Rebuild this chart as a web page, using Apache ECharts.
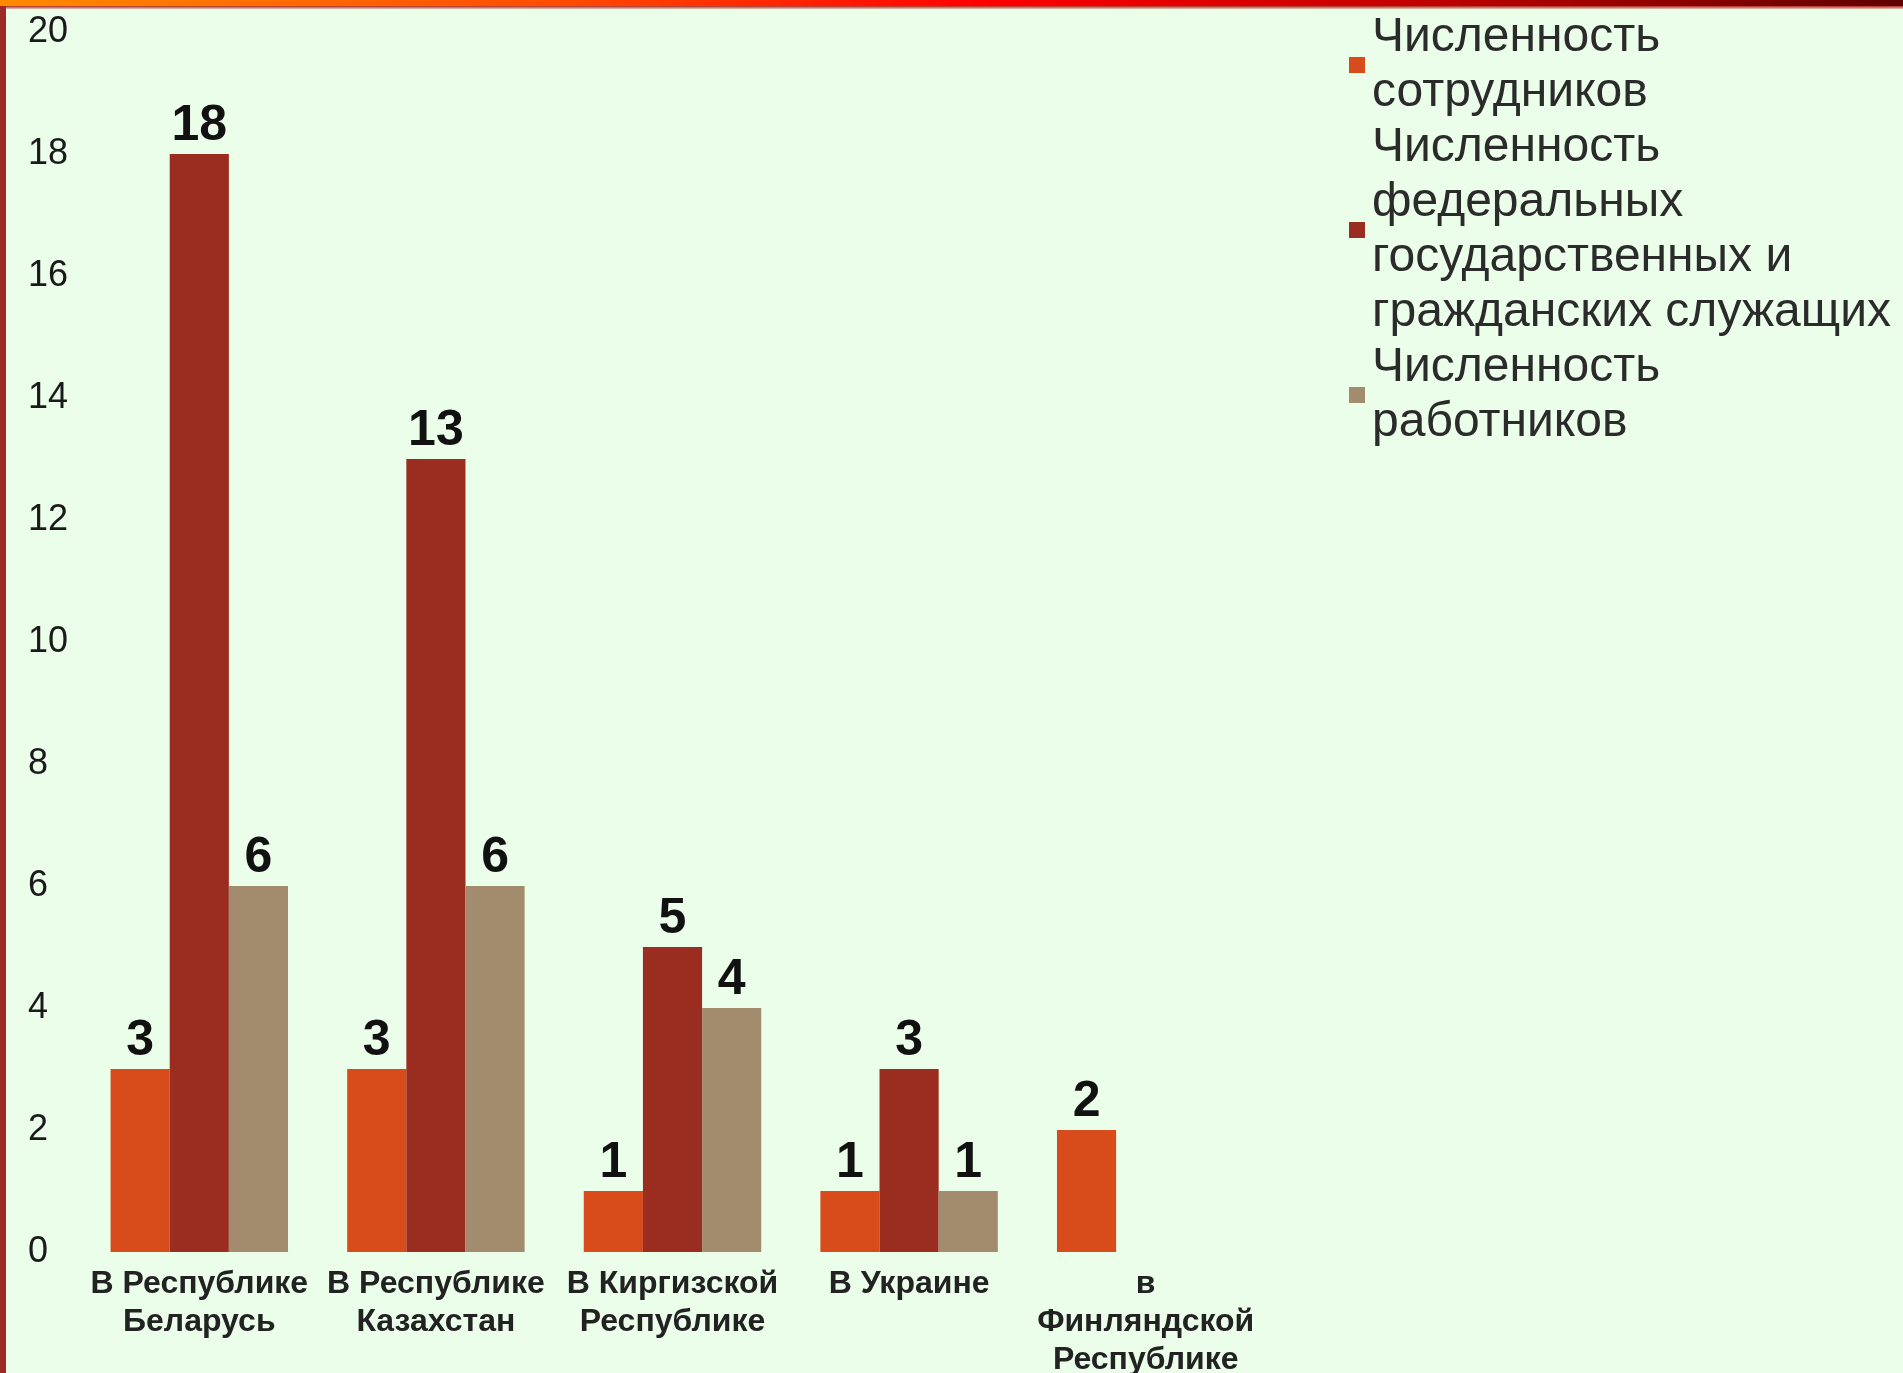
<!DOCTYPE html>
<html>
<head>
<meta charset="utf-8">
<script src="https://cdn.jsdelivr.net/npm/echarts@6/dist/echarts.min.js"></script>
<style>
  html, body { margin: 0; padding: 0; background: #eafeea; overflow: hidden; }
  #chart { position: absolute; left: 0; top: 0; width: 1903px; height: 1373px; }
  #topbar { position: absolute; left: 0; top: 0; width: 1903px; height: 6px; z-index: 5;
    background: linear-gradient(to right, #ff8a00 0%, #ff4a00 30%, #ff0000 52%, #c00000 75%, #600000 100%); }
  #topline { position: absolute; left: 0; top: 6px; width: 1903px; height: 3px; z-index: 5;
    background: linear-gradient(to bottom, #b02a20, rgba(200,120,110,0.4)); }
  #leftbar { position: absolute; left: 0; top: 6px; width: 6px; height: 1367px; z-index: 5; background: #9c2b27; }
</style>
</head>
<body>
<div id="chart"></div>
<div id="topbar"></div>
<div id="topline"></div>
<div id="leftbar"></div>
<script>
const categories = [
  'В Республике\nБеларусь',
  'В Республике\nКазахстан',
  'В Киргизской\nРеспублике',
  'В Украине',
  'в\nФинляндской\nРеспублике'
];
const seriesNames = [
  'Численность\nсотрудников',
  'Численность\nфедеральных\nгосударственных и\nгражданских служащих',
  'Численность\nработников'
];
const staff = [3, 3, 1, 1, 2];
const federal = [18, 13, 5, 3, null];
const workers = [6, 6, 4, 1, null];
const yTicks = { min: 0, max: 20, interval: 2 };
const colors = ['#d84b1a', '#9b2d20', '#a38c6e'];

const chart = echarts.init(document.getElementById('chart'), null, { renderer: 'canvas' });
const font = '"Liberation Sans", Arial, sans-serif';
const labelStyle = {
  show: true, position: 'top', distance: 3,
  fontSize: 50, fontWeight: 'bold', color: '#111', fontFamily: font
};
chart.setOption({
  backgroundColor: 'transparent',
  color: colors,
  animation: false,
  grid: { left: 81, right: 639, top: 32, bottom: 121, outerBoundsMode: 'none' },
  legend: {
    orient: 'vertical', left: 1344, top: 5,
    itemWidth: 16, itemHeight: 16, itemGap: 0, icon: 'rect',
    textStyle: { fontSize: 48, lineHeight: 55, color: '#2b2b2b', fontFamily: font, padding: [0, 0, 0, 2] },
    data: seriesNames
  },
  xAxis: {
    type: 'category', data: categories,
    axisLine: { show: false }, axisTick: { show: false },
    axisLabel: { interval: 0, margin: 13, fontSize: 32, lineHeight: 38, fontWeight: 'bold', color: '#222', fontFamily: font }
  },
  yAxis: {
    type: 'value', min: yTicks.min, max: yTicks.max, interval: yTicks.interval,
    axisLine: { show: false }, axisTick: { show: false }, splitLine: { show: false },
    axisLabel: { align: 'left', margin: 53, fontSize: 36, color: '#1a1a1a', fontFamily: font }
  },
  series: [
    { name: seriesNames[0], type: 'bar', data: staff, barGap: '0%', barCategoryGap: '25%', label: labelStyle },
    { name: seriesNames[1], type: 'bar', data: federal, barGap: '0%', barCategoryGap: '25%', label: labelStyle },
    { name: seriesNames[2], type: 'bar', data: workers, barGap: '0%', barCategoryGap: '25%', label: labelStyle }
  ]
});
</script>
</body>
</html>
